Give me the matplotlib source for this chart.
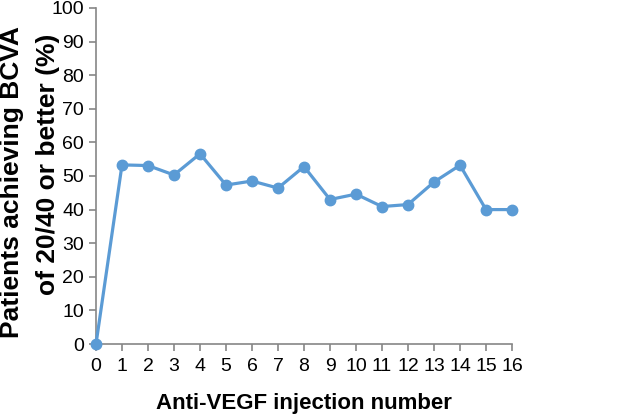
import matplotlib
matplotlib.use("Agg")
import matplotlib.pyplot as plt

plt.rcParams['font.family'] = ['Liberation Sans', 'DejaVu Sans']

injections = list(range(17))
pct_2040 = [0, 53.3, 53.1, 50.3, 56.6, 47.3, 48.5, 46.4, 52.8, 43.0,
            44.6, 40.9, 41.5, 48.2, 53.2, 40.0, 40.0]
y_ticks = list(range(0, 101, 10))
ylabel_lines = ['Patients achieving BCVA', 'of 20/40 or better (%)']

W, H = 640, 417
fig = plt.figure(figsize=(W / 100, H / 100), dpi=100)
ax = fig.add_axes([0.15, 0.175, 0.65, 0.806])

ax.plot(injections, pct_2040, color='#5B9BD5', linewidth=2.3,
        marker='o', markersize=7.5, clip_on=False, zorder=3)

ax.set_xlim(0, 16)
ax.set_ylim(0, 100)
ax.set_xticks(injections)
ax.set_yticks(y_ticks)

for side in ('top', 'right'):
    ax.spines[side].set_visible(False)
for side in ('left', 'bottom'):
    ax.spines[side].set_color('#868686')
    ax.spines[side].set_linewidth(1.2)

ax.tick_params(axis='both', colors='#868686', length=5, width=1.2,
               labelcolor='black', labelsize=14, pad=3.5)
ax.tick_params(axis='x', pad=5)

ax.set_xlabel('Anti-VEGF injection number', fontsize=16, fontweight='bold',
              labelpad=13)

# two-line y label, placed by baseline position (pixels from left / top)
for txt, xb, yc in zip(ylabel_lines, [19.5, 55], [182, 164]):
    fig.text(xb / W, 1 - yc / H, txt, rotation=90, rotation_mode='anchor',
             ha='center', va='baseline', fontsize=19, fontweight='bold')

fig.savefig('out.png', dpi=100)
